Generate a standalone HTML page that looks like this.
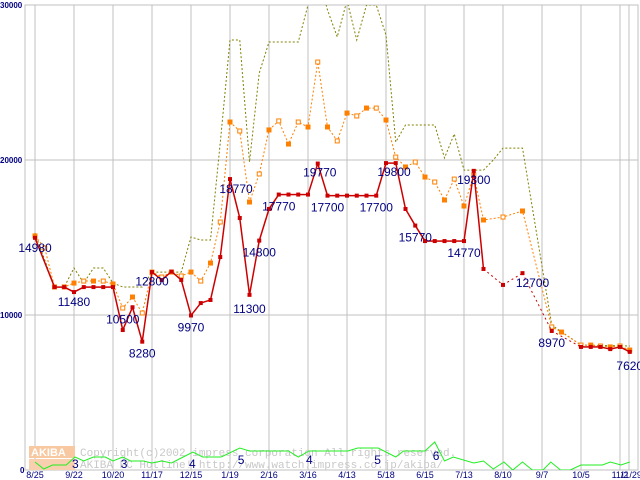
<!DOCTYPE html>
<html><head><meta charset="utf-8"><style>
body{margin:0;background:#fff;}
svg{display:block;font-family:"Liberation Sans","DejaVu Sans",sans-serif;}
</style></head><body>
<svg id="chart" width="640" height="480" viewBox="0 0 640 480">
<defs><clipPath id="plotclip"><rect x="25" y="5" width="613" height="465"/></clipPath></defs>
<g id="grid"></g>
<g id="watermark">
<rect x="29" y="446" width="46" height="12" fill="#f8c8a0"/>
<text x="31" y="456" font-size="11" fill="#fff" font-weight="bold">AKIBA</text>
<rect x="29" y="459" width="46" height="11" fill="#f8d0b0"/>
<text x="80" y="456" font-size="11" fill="#c8c8c8" font-family="Liberation Mono, monospace">Copyright(c)2002 impress corporation All rights reserved.</text>
<text x="80" y="468" font-size="11" fill="#c8c8c8" font-family="Liberation Mono, monospace">AKIBA PC Hotline!  http://www.watch.impress.co.jp/akiba/</text>
</g>
<g id="series" clip-path="url(#plotclip)"></g>
<g id="labels"></g>
</svg>
<script>
const xLabels=["8/25","9/22","10/20","11/17","12/15","1/19","2/16","3/16","4/13","5/18","6/15","7/13","8/10","9/7","10/5","11/2"];
const yTicks=[0,10000,20000,30000];
const redWeeks=[0,2,3,4,5,6,7,8,9,10,11,12,13,14,15,16,17,18,19,20,21,22,23,24,25,26,27,28,29,30,31,32,33,34,35,36,37,38,39,40,41,42,43,44,45,46,48,50,53,56,57,58,59,60,61];
const redValues=[14980,11800,11800,11480,11800,11800,11800,11800,9030,10500,8280,12770,12260,12800,12260,9970,10770,10970,13740,18770,16260,11300,14800,16840,17770,17770,17770,17770,19770,17700,17700,17700,17700,17700,17700,19800,19800,16840,15770,14770,14770,14770,14770,14770,19300,12970,11940,12700,8970,7940,7940,7940,7800,7940,7620];
const orangeWeeks=[0,1,2,3,4,5,6,7,8,9,10,11,12,13,14,15,16,17,18,19,20,21,22,23,24,25,26,27,28,29,30,31,32,33,34,35,36,37,38,39,40,41,42,43,44,45,46,48,50,53,54,56,57,58,59,60,61];
const orangeValues=[15100,14320,11810,11810,12060,12190,12190,12190,12000,10450,11160,10130,12770,12450,12770,12520,12770,12190,13350,16000,22450,21870,17290,19100,21940,22520,21030,22450,22130,26320,22130,21230,23030,22840,23350,23350,22580,20190,19550,19870,18900,18580,17420,18770,17030,19030,16130,16320,16710,9230,8900,8060,8060,8000,7940,8000,7740];
const oliveWeeks=[0,2,3,4,5,6,7,8,9,10,11,12,13,14,15,16,17,18,19,20,21,22,23,24,25,26,27,28,29,30,31,32,33,34,35,36,37,38,39,40,41,42,43,44,45,46,47,48,49,50,53,56,61];
const oliveValues=[15290,11810,11810,13030,12060,13030,13030,12060,11810,11810,11810,12770,12770,12770,12770,15030,14840,14840,21100,27740,27740,19870,25610,27610,27610,27610,27610,30000,32000,29680,27940,30300,27740,30000,30000,28060,21160,22260,22260,22260,22260,20130,21680,19350,19350,19350,20000,20770,20770,20770,9350,8060,8000];
const greenWeeks=[0,0.9,1.8,3.2,4.1,5,6,7.2,8,9,9.8,11.1,12,13,14,15.2,16.2,17.2,19.1,21,22,26,27,28.1,32.1,33.1,35.2,37,37.8,40,41,42,42.9,45,46,47,48.1,49,50,51,52.1,52.9,53.9,54.9,56,58.2,59,60.1,61];
const greenValues=[8,1,5,5,13,9,13,13,9,13,9,9,7,9,7,13,18,13,13,22,19,19,13,19,19,22,22,13,19,19,28,9,13,7,9,1,8,0,8,0,0,8,0,0,5,5,8,5,8];
const priceLabels=["14980","11480","10500","8280","12800","9970","18770","11300","14800","17770","19770","17700","17700","19800","15770","14770","19300","12700","8970","7620"];
const priceLabelWeeks=[0,4,9,11,12,16,20,22,23,25,29,30,35,36,39,44,45,50,53,61];
const priceLabelValues=[14980,11480,10500,8280,12800,9970,18770,11300,14800,17770,19770,17700,17700,19800,15770,14770,19300,12700,8970,7620];
const countLabels=["3","3","4","5","4","5","6"];
const countLabelWeeks=[4,9,16,21,28,35,41];

const NS="http://www.w3.org/2000/svg";
const X=w=>35+w*9.75;
const Y=v=>470-v*0.0155;
const GY=c=>470-c;
function mk(tag,attrs,parent){const e=document.createElementNS(NS,tag);for(const k in attrs)e.setAttribute(k,attrs[k]);parent.appendChild(e);return e;}
const grid=document.getElementById('grid'),series=document.getElementById('series'),labels=document.getElementById('labels');

mk('rect',{x:25,y:5,width:613,height:465,fill:'none',stroke:'#c0c0c0'},grid);
xLabels.forEach((t,i)=>{
  const x=X(i*4);
  const l=mk('line',{x1:x,y1:5,x2:x,y2:470,stroke:'#c0c0c0'},grid);
  
  
  const tx=mk('text',{x:x,y:478,'font-size':9,fill:'#000080','text-anchor':'middle'},labels);
  tx.textContent=t;
  
  
});
const l2=mk('line',{x1:629,y1:5,x2:629,y2:470,stroke:'#c0c0c0'},grid);


const t2=mk('text',{x:631,y:478,'font-size':9,fill:'#000080','text-anchor':'middle'},labels);
t2.textContent='11/29';


yTicks.forEach(v=>{
  const y=Y(v);
  if(v>0){const l=mk('line',{x1:25,y1:y,x2:638,y2:y,stroke:'#c0c0c0'},grid);
  
  }
  const t=mk('text',{x:v>0?0:20,y:y+3,'font-size':8,'font-weight':'bold',fill:'#000080'},labels);
  t.textContent=String(v);
  
  
});

function line(ws,vs,fy,color,dash,width,name){
  const p=ws.map((w,i)=>X(w)+','+fy(vs[i])).join(' ');
  const e=mk('polyline',{points:p,fill:'none',stroke:color,'stroke-width':width},series);
  if(dash)e.setAttribute('stroke-dasharray',dash);
  
  
}
line(greenWeeks,greenValues,GY,'#22ee22',null,1,'count-line');
line(oliveWeeks,oliveValues,Y,'#808000','2,2',1,'max-price-line');
line(orangeWeeks,orangeValues,Y,'#ff8000','2,2',1,'avg-price-line');
orangeWeeks.forEach((w,i)=>{
  const r=mk('rect',{x:X(w)-2,y:Y(orangeValues[i])-2,width:4,height:4,fill:i%2?'#fff':'#ff8000',stroke:'#ff8000','stroke-width':1},series);
  
  
});
for(let i=1;i<redWeeks.length;i++){
  const gap=redWeeks[i]-redWeeks[i-1]>1&&redWeeks[i]>46;
  const s=mk('line',{x1:X(redWeeks[i-1]),y1:Y(redValues[i-1]),x2:X(redWeeks[i]),y2:Y(redValues[i]),stroke:'#cc0000','stroke-width':gap?1:1.5},series);
  if(gap)s.setAttribute('stroke-dasharray','2,3');
  
  
}
redWeeks.forEach((w,i)=>{
  const r=mk('rect',{x:X(w)-2,y:Y(redValues[i])-2,width:4,height:4,fill:'#cc0000'},series);
  
  
});
const offs=[[0,10],[0,10],[0,12],[0,12],[0,10],[0,12],[6,10],[0,14],[0,12],[0,12],[2,9],[0,12],[0,12],[8,9],[0,12],[0,12],[0,9],[10,10],[0,12],[0,14]];
priceLabels.forEach((t,i)=>{
  const e=mk('text',{x:X(priceLabelWeeks[i])+offs[i][0],y:Y(priceLabelValues[i])+offs[i][1]+4,'font-size':12,fill:'#000080','text-anchor':'middle'},labels);
  e.textContent=t;
  
  
});
countLabels.forEach((t,i)=>{
  const e=mk('text',{x:X(countLabelWeeks[i])-2,y:468-(i>=3?4:0)-(i==6?4:0),'font-size':12,fill:'#000080'},labels);
  e.textContent=t;
  
  
});
</script>
</body></html>
